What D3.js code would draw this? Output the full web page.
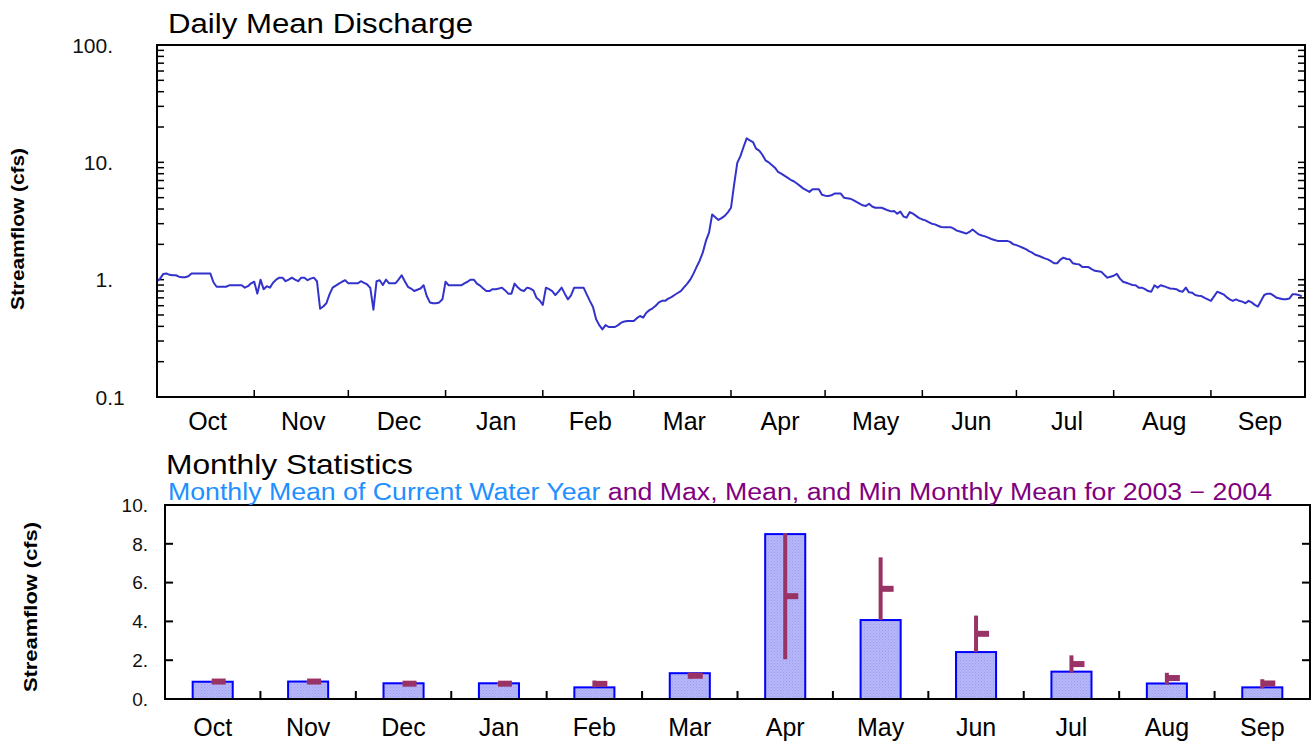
<!DOCTYPE html>
<html lang="en">
<head>
<meta charset="UTF-8">
<title>Daily Mean Discharge</title>
<style>
  body { margin: 0; background: #fff; }
  svg { display: block; font-family: "Liberation Sans", Arial, sans-serif; }
</style>
</head>
<body>
<svg id="chart" width="1312" height="748"></svg>
<script src="https://cdn.jsdelivr.net/npm/d3@7"></script>
<script>
// daily mean discharge, water year 2004 (cfs), one array per month
const oct = [0.97,1.02,1.12,1.13,1.10,1.09,1.09,1.06,1.05,1.05,1.07,1.13,1.13,1.13,1.13,1.13,1.13,1.13,0.95,0.87,0.87,0.87,0.87,0.895,0.895,0.895,0.895,0.895,0.855,0.88,0.93];
const nov = [0.96,0.76,1.0,0.83,0.88,0.855,0.94,1.0,1.04,1.04,0.97,1.0,1.04,1.0,0.97,1.04,1.04,0.99,1.02,1.04,0.97,0.565,0.59,0.63,0.75,0.855,0.89,0.925,0.96,0.99];
const dec = [0.93,0.93,0.93,0.93,0.97,0.94,0.91,0.85,0.555,0.97,0.99,0.90,1.0,0.93,0.93,0.93,1.0,1.09,0.97,0.87,0.84,0.80,0.82,0.84,0.895,0.725,0.64,0.63,0.63,0.64,0.68];
const jan = [0.96,0.895,0.895,0.895,0.895,0.895,0.93,0.96,1.0,1.0,0.925,0.89,0.84,0.80,0.80,0.83,0.83,0.84,0.855,0.81,0.76,0.76,0.925,0.86,0.817,0.80,0.855,0.84,0.81,0.70,0.665];
const feb = [0.61,0.855,0.83,0.80,0.74,0.79,0.855,0.76,0.68,0.735,0.855,0.855,0.855,0.855,0.75,0.66,0.585,0.46,0.41,0.377,0.41,0.395,0.395,0.395,0.41,0.43,0.44,0.445,0.445];
const mar = [0.445,0.47,0.49,0.475,0.523,0.55,0.57,0.60,0.64,0.66,0.66,0.69,0.71,0.74,0.77,0.80,0.86,0.92,1.0,1.12,1.28,1.45,1.70,2.14,2.52,3.6,3.4,3.23,3.35,3.5,3.75];
const apr = [4.1,6.5,9.9,11.3,13.5,16.0,15.4,14.9,13.1,12.6,11.6,10.4,10.0,9.5,9.0,8.3,8.0,7.7,7.4,7.1,6.9,6.6,6.3,6.0,5.8,5.6,5.9,5.9,5.9,5.3];
const may = [5.2,5.17,5.24,5.42,5.42,5.42,5.0,4.95,4.9,4.77,4.6,4.45,4.3,4.24,4.44,4.2,4.1,4.1,4.1,4.0,3.9,3.82,3.85,3.65,3.8,3.45,3.38,3.77,3.65,3.5,3.35];
const jun = [3.26,3.2,3.1,3.0,2.96,2.88,2.81,2.8,2.8,2.8,2.72,2.62,2.57,2.52,2.47,2.55,2.68,2.55,2.43,2.38,2.34,2.28,2.22,2.18,2.14,2.14,2.14,2.14,2.1,2.0];
const jul = [1.97,1.92,1.87,1.82,1.75,1.7,1.63,1.6,1.56,1.52,1.49,1.44,1.38,1.38,1.48,1.54,1.5,1.49,1.38,1.36,1.35,1.28,1.28,1.28,1.23,1.19,1.18,1.17,1.1,1.04,1.06];
const aug = [1.08,1.12,1.02,0.96,0.94,0.92,0.90,0.895,0.855,0.855,0.83,0.80,0.79,0.895,0.855,0.895,0.88,0.86,0.84,0.835,0.83,0.80,0.79,0.855,0.78,0.775,0.74,0.73,0.725,0.70,0.68];
const sep = [0.66,0.72,0.79,0.77,0.75,0.71,0.68,0.66,0.68,0.66,0.65,0.63,0.66,0.64,0.61,0.59,0.66,0.74,0.76,0.76,0.73,0.70,0.69,0.68,0.68,0.69,0.75,0.75,0.74,0.72];

// monthly statistics
const months = ["Oct","Nov","Dec","Jan","Feb","Mar","Apr","May","Jun","Jul","Aug","Sep"];
const currentMean = [0.89,0.9,0.81,0.81,0.6,1.33,8.5,4.07,2.42,1.41,0.8,0.6];
const maxMean  = [0.92,0.92,0.82,0.82,0.95,1.36,8.55,7.3,4.3,2.25,1.35,1.02];
const meanMean = [0.9,0.9,0.79,0.79,0.78,1.2,5.3,5.68,3.36,1.8,1.08,0.8];
const minMean  = [0.88,0.88,0.78,0.78,0.6,1.05,2.05,4.07,2.42,1.35,0.75,0.55];

const topTicks = [0.1, 1, 10, 100];
const topTickLabels = ["0.1", "1.", "10.", "100."];
const botTicks = [0, 2, 4, 6, 8, 10];
const botTickLabels = ["0.", "2.", "4.", "6.", "8.", "10."];

const svg = d3.select("#chart");
const lineColor = "#3333cc";
const statColor = "#993366";

// ---------- top panel ----------
const T = { left: 157, right: 1305, top: 45, bottom: 397 };
const start = new Date(Date.UTC(2003, 9, 1));
const end = new Date(Date.UTC(2004, 9, 1));
const daily = [oct, nov, dec, jan, feb, mar, apr, may, jun, jul, aug, sep].flat()
  .map((v, i) => ({ date: d3.utcDay.offset(start, i), v }));

const x = d3.scaleUtc().domain([start, end]).range([T.left, T.right]);
const y = d3.scaleLog().domain([0.1, 100]).range([T.bottom, T.top]);

// log ticks on both sides, pointing inward
const logTicks = d3.range(-1, 2).flatMap(e => d3.range(1, 10).map(k => k * Math.pow(10, e))).concat([100]);
svg.append("g").selectAll("line").data(logTicks).join("line")
  .attr("x1", T.left).attr("x2", T.left + 7)
  .attr("y1", d => y(d)).attr("y2", d => y(d))
  .attr("stroke", "#000").attr("stroke-width", 1.5);
svg.append("g").selectAll("line").data(logTicks).join("line")
  .attr("x1", T.right).attr("x2", T.right - 7)
  .attr("y1", d => y(d)).attr("y2", d => y(d))
  .attr("stroke", "#000").attr("stroke-width", 1.5);

// month ticks along the bottom
const monthStarts = d3.utcMonth.range(start, end);
svg.append("g").selectAll("line").data(monthStarts.slice(1)).join("line")
  .attr("x1", d => x(d)).attr("x2", d => x(d))
  .attr("y1", T.bottom).attr("y2", T.bottom - 7)
  .attr("stroke", "#000").attr("stroke-width", 1.5);

svg.append("path")
  .datum(daily)
  .attr("fill", "none")
  .attr("stroke", lineColor)
  .attr("stroke-width", 2)
  .attr("stroke-linejoin", "round")
  .attr("d", d3.line().x(d => x(d.date)).y(d => y(d.v)));

svg.append("rect")
  .attr("x", T.left).attr("y", T.top)
  .attr("width", T.right - T.left).attr("height", T.bottom - T.top)
  .attr("fill", "none").attr("stroke", "#000").attr("stroke-width", 2);

// y labels aligned on the decimal point
const topLab = svg.append("g").attr("font-size", 21).attr("fill", "#111");
topTicks.forEach((t, i) => {
  const parts = topTickLabels[i].split(".");
  topLab.append("text").attr("x", 113).attr("y", y(t)).attr("dy", "0.36em")
    .attr("text-anchor", "end").text(parts[0] + ".");
  if (parts[1]) topLab.append("text").attr("x", 113).attr("y", y(t)).attr("dy", "0.36em")
    .attr("text-anchor", "start").text(parts[1]);
});

svg.append("g").selectAll("text").data(monthStarts).join("text")
  .attr("x", d => (x(d) + x(d3.utcMonth.offset(d, 1))) / 2 + 2)
  .attr("y", 430)
  .attr("text-anchor", "middle")
  .attr("font-size", 25)
  .text((d, i) => months[i]);

svg.append("text")
  .attr("x", 168).attr("y", 33)
  .attr("font-size", 27)
  .attr("textLength", 305).attr("lengthAdjust", "spacingAndGlyphs")
  .text("Daily Mean Discharge");

svg.append("text")
  .attr("transform", `translate(24,${(T.top + T.bottom) / 2 + 8}) rotate(-90)`)
  .attr("text-anchor", "middle")
  .attr("font-size", 18).attr("font-weight", "bold")
  .attr("textLength", 162).attr("lengthAdjust", "spacingAndGlyphs")
  .text("Streamflow (cfs)");

// ---------- bottom panel ----------
const B = { left: 165, right: 1310, top: 505, bottom: 699 };
const xb = d3.scaleBand().domain(months).range([B.left, B.right])
  .paddingInner(0.58).paddingOuter(0.29);
const yb = d3.scaleLinear().domain([0, 10]).range([B.bottom, B.top]);
const step = xb.step();

const defs = svg.append("defs");
const pat = defs.append("pattern").attr("id", "stipple")
  .attr("width", 3).attr("height", 3).attr("patternUnits", "userSpaceOnUse");
pat.append("rect").attr("width", 3).attr("height", 3).attr("fill", "#b6b6fb");
pat.append("rect").attr("width", 1).attr("height", 1).attr("fill", "#9c9ce8");
pat.append("rect").attr("x", 1.5).attr("y", 1.5).attr("width", 1).attr("height", 1).attr("fill", "#a4a4ee");

svg.append("g").selectAll("rect").data(months).join("rect")
  .attr("x", d => xb(d))
  .attr("y", (d, i) => yb(currentMean[i]))
  .attr("width", xb.bandwidth())
  .attr("height", (d, i) => yb(0) - yb(currentMean[i]))
  .attr("fill", "url(#stipple)")
  .attr("stroke", "#0000ff").attr("stroke-width", 2);

// max/min line and mean flag
const stats = svg.append("g");
months.forEach((m, i) => {
  const cx = xb(m) + xb.bandwidth() / 2;
  stats.append("line")
    .attr("x1", cx).attr("x2", cx)
    .attr("y1", yb(maxMean[i])).attr("y2", yb(minMean[i]))
    .attr("stroke", statColor).attr("stroke-width", 4);
  stats.append("rect")
    .attr("x", cx - 1).attr("y", yb(meanMean[i]) - 3)
    .attr("width", 14).attr("height", 6)
    .attr("fill", statColor);
});

svg.append("g").selectAll("line").data(botTicks.slice(1, -1)).join("line")
  .attr("x1", B.left).attr("x2", B.left + 8)
  .attr("y1", d => yb(d)).attr("y2", d => yb(d))
  .attr("stroke", "#000").attr("stroke-width", 2);
svg.append("g").selectAll("line").data(botTicks.slice(1, -1)).join("line")
  .attr("x1", B.right).attr("x2", B.right - 8)
  .attr("y1", d => yb(d)).attr("y2", d => yb(d))
  .attr("stroke", "#000").attr("stroke-width", 2);
svg.append("g").selectAll("line").data(months.slice(1)).join("line")
  .attr("x1", d => xb(d) - step * 0.29).attr("x2", d => xb(d) - step * 0.29)
  .attr("y1", B.bottom).attr("y2", B.bottom - 8)
  .attr("stroke", "#000").attr("stroke-width", 2);

svg.append("rect")
  .attr("x", B.left).attr("y", B.top)
  .attr("width", B.right - B.left).attr("height", B.bottom - B.top)
  .attr("fill", "none").attr("stroke", "#000").attr("stroke-width", 2);

svg.append("g").selectAll("text").data(botTicks).join("text")
  .attr("x", 148).attr("y", d => yb(d)).attr("dy", "0.36em")
  .attr("text-anchor", "end").attr("font-size", 19).attr("fill", "#111")
  .text((d, i) => botTickLabels[i]);

svg.append("g").selectAll("text").data(months).join("text")
  .attr("x", d => xb(d) + xb.bandwidth() / 2)
  .attr("y", 736)
  .attr("text-anchor", "middle")
  .attr("font-size", 25)
  .text(d => d);

svg.append("text")
  .attr("x", 166).attr("y", 474)
  .attr("font-size", 28)
  .attr("textLength", 247).attr("lengthAdjust", "spacingAndGlyphs")
  .text("Monthly Statistics");

const legend = svg.append("text")
  .attr("x", 168).attr("y", 500)
  .attr("font-size", 23)
  .attr("textLength", 1104).attr("lengthAdjust", "spacingAndGlyphs");
legend.append("tspan").attr("fill", "#1e90ff").text("Monthly Mean of Current Water Year ");
legend.append("tspan").attr("fill", "#800080").text("and Max, Mean, and Min Monthly Mean for 2003 \u2212 2004");

svg.append("text")
  .attr("transform", `translate(37,${(B.top + B.bottom) / 2 + 5}) rotate(-90)`)
  .attr("text-anchor", "middle")
  .attr("font-size", 18).attr("font-weight", "bold")
  .attr("textLength", 170).attr("lengthAdjust", "spacingAndGlyphs")
  .text("Streamflow (cfs)");
</script>
</body>
</html>
